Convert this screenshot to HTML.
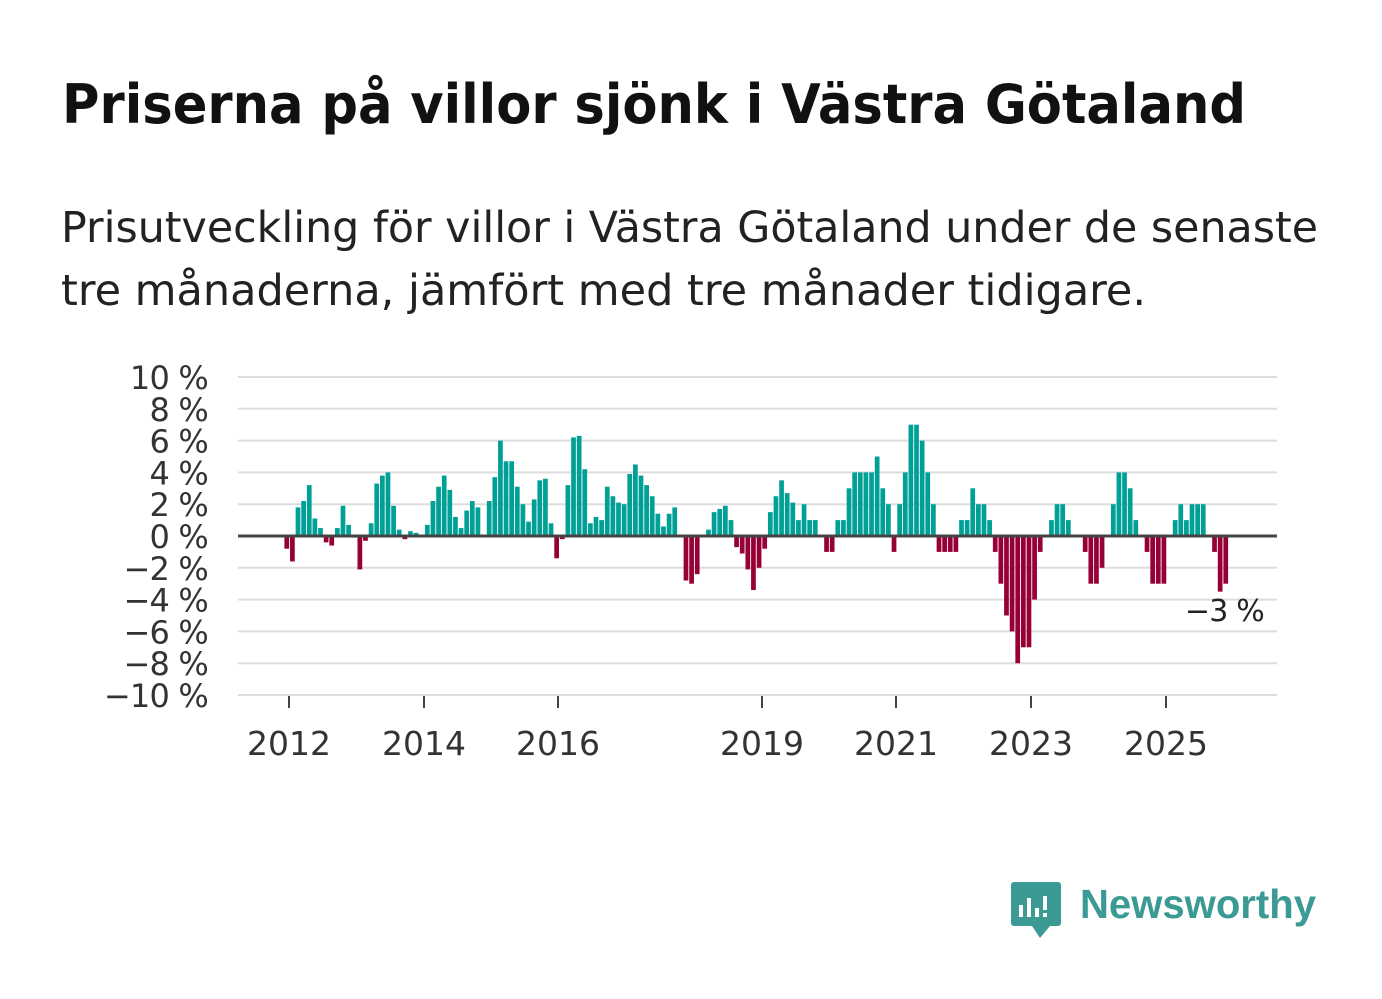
<!DOCTYPE html>
<html><head><meta charset="utf-8"><style>
html,body{margin:0;padding:0;background:#fff;}
body{width:1382px;height:999px;position:relative;overflow:hidden;}
</style></head><body>
<svg id="c" width="1382" height="999" style="position:absolute;left:0;top:0" xmlns="http://www.w3.org/2000/svg"></svg>
<script>
const F='DejaVu Sans, Liberation Sans, sans-serif';
const d=[-0.8,-1.6,1.8,2.2,3.2,1.1,0.5,-0.4,-0.6,0.5,1.9,0.7,-0.1,-2.1,-0.3,0.8,3.3,3.8,4.0,1.9,0.4,-0.2,0.3,0.2,0,0.7,2.2,3.1,3.8,2.9,1.2,0.5,1.6,2.2,1.8,0,2.2,3.7,6.0,4.7,4.7,3.1,2.0,0.9,2.3,3.5,3.6,0.8,-1.4,-0.2,3.2,6.2,6.3,4.2,0.8,1.2,1.0,3.1,2.5,2.1,2.0,3.9,4.5,3.8,3.2,2.5,1.4,0.6,1.4,1.8,0,-2.8,-3.0,-2.4,0,0.4,1.5,1.7,1.9,1.0,-0.7,-1.1,-2.1,-3.4,-2.0,-0.8,1.5,2.5,3.5,2.7,2.1,1.0,2.0,1.0,1.0,0,-1,-1,1,1,3,4,4,4,4,5,3,2,-1,2,4,7,7,6,4,2,-1,-1,-1,-1,1,1,3,2,2,1,-1,-3,-5,-6,-8,-7,-7,-4,-1,0,1,2,2,1,0,0,-1,-3,-3,-2,0,2,4,4,3,1,0,-1,-3,-3,-3,0,1,2,1,2,2,2,0,-1,-3.5,-3];
let s='';
s+=`<text x="62" y="123" font-size="54" font-weight="bold" fill="#111" font-family="${F}" textLength="1184" lengthAdjust="spacingAndGlyphs">Priserna på villor sjönk i Västra Götaland</text>`;
s+=`<text x="61" y="242" font-size="43" fill="#222" font-family="${F}" textLength="1257" lengthAdjust="spacingAndGlyphs">Prisutveckling för villor i Västra Götaland under de senaste</text>`;
s+=`<text x="61" y="305" font-size="43" fill="#222" font-family="${F}" textLength="1085" lengthAdjust="spacingAndGlyphs">tre månaderna, jämfört med tre månader tidigare.</text>`;
const y0=536,k=15.9;
for(let v=-10;v<=10;v+=2){const y=y0-v*k;
 s+=`<line x1="238" x2="1277" y1="${y}" y2="${y}" stroke="#ddd" stroke-width="2"/>`;
 s+=`<text x="208" y="${y+12}" text-anchor="end" font-size="32" fill="#333" font-family="${F}" letter-spacing="-0.8">${v<0?'−'+(-v):v} %</text>`;}
const n=d.length,x0=287,x1=1226,st=(x1-x0)/(n-1);
d.forEach((v,i)=>{if(v==0)return;const x=x0+i*st-2.6,h=Math.abs(v)*k;
 s+=`<rect x="${x}" y="${v>0?y0-h:y0}" width="${st-0.9}" height="${h}" fill="${v>0?'#00a096':'#960036'}"/>`;});
s+=`<line x1="238" x2="1277" y1="${y0}" y2="${y0}" stroke="#444" stroke-width="3"/>`;
[[289,2012],[424,2014],[558,2016],[762,2019],[896,2021],[1031,2023],[1166,2025]].forEach(([x,l])=>{
 s+=`<line x1="${x}" x2="${x}" y1="696" y2="708" stroke="#444" stroke-width="2"/>`;
 s+=`<text x="${x}" y="755" text-anchor="middle" font-size="33" fill="#333" font-family="${F}">${l}</text>`;});
s+=`<text x="1264" y="621" text-anchor="end" font-size="30" fill="#222" font-family="${F}" letter-spacing="-0.8">−3 %</text>`;
s+=`<path d="M1014 882 H1058 a3 3 0 0 1 3 3 V923 a3 3 0 0 1 -3 3 H1050 L1040 938 L1032 926 H1014 a3 3 0 0 1 -3 -3 V885 a3 3 0 0 1 3 -3Z" fill="#3b9a93"/>`;
s+=`<rect x="1019" y="905" width="4" height="12" fill="#fff"/><rect x="1027" y="898" width="4" height="19" fill="#fff"/><rect x="1035" y="908" width="4" height="9" fill="#fff"/><rect x="1043" y="896" width="4" height="14" fill="#fff"/><rect x="1043" y="913" width="4" height="4" fill="#fff"/>`;
s+=`<text x="1080" y="918" font-size="41" font-weight="bold" fill="#3b9a93" font-family="Liberation Sans,sans-serif" textLength="236" lengthAdjust="spacingAndGlyphs">Newsworthy</text>`;
document.getElementById('c').innerHTML=s;
</script>
</body></html>
